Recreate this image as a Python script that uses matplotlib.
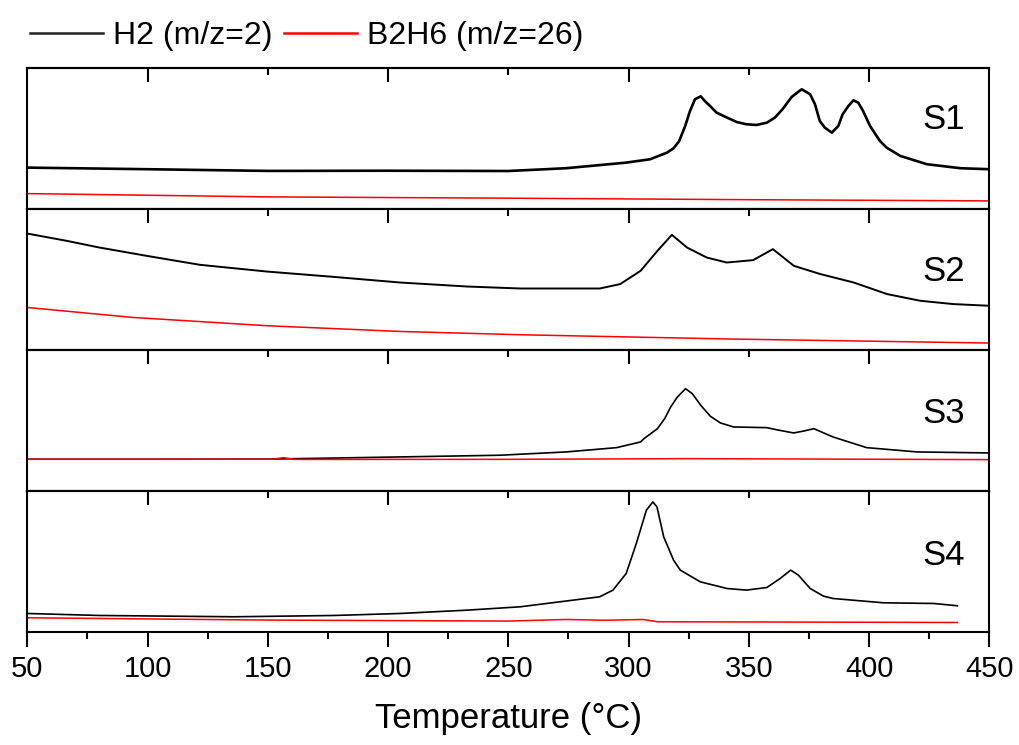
import numpy as np
import matplotlib
matplotlib.use('Agg')
import matplotlib.pyplot as plt
from matplotlib.lines import Line2D

plt.rcParams['font.family'] = ['Liberation Sans', 'DejaVu Sans']

# 各面板曲线（温度 °C, 强度 a.u.）
s1_h2_t = [50, 100, 150, 200, 250, 274, 299, 309, 316, 318.7, 321, 323.5, 325.5, 327.6, 330, 331.8, 334,
           336.6, 341, 344.9, 349, 353.2, 357.5, 360.8, 364, 367.8, 371, 372, 375.5, 377.5, 379.5, 381.6,
           384.5, 387.2, 389, 391.4, 393.5, 395.5, 397.5, 400.4, 404.5, 407.3, 413, 424, 438, 450]
s1_h2 = [41.6, 40, 38.3, 38.5, 38.2, 41, 46.6, 50, 56.6, 61, 68, 83, 98, 110, 113, 108, 103,
         96.6, 91.6, 87.3, 85, 84.3, 86.6, 91.6, 100, 112.3, 118.3, 120, 115, 105, 88.3, 81.6,
         76.6, 83.3, 95, 103.3, 109, 106.6, 98.3, 83.3, 68.3, 61.6, 53.3, 45, 41, 40]
s1_b2h6_t = [50, 150, 250, 350, 450]
s1_b2h6 = [15.6, 12.3, 11, 9.5, 8.3]

s2_h2_t = [50, 66.4, 80, 99.6, 121.8, 149.5, 177, 205, 232.7, 255, 288, 296.5, 305, 312, 318,
           324.3, 332.5, 340.8, 351.8, 360, 368.7, 379.8, 393.6, 407.5, 421.3, 435, 450]
s2_h2 = [116.6, 109.3, 102.6, 94.3, 85.3, 78.6, 73.3, 67.6, 63.6, 61.6, 61.6, 66, 79.3, 99.3, 115.3,
         102.6, 92.6, 87.6, 90, 101, 84.3, 76, 67.6, 56, 49.3, 46, 44.3]
s2_b2h6_t = [50, 94, 150, 205, 255, 343, 450]
s2_b2h6 = [42.6, 32.6, 24.3, 18.6, 15.3, 11, 7]

s3_h2_t = [50, 100, 150, 205, 246.5, 274, 295, 305, 306.4, 312, 315, 317.5, 320.3, 323.7, 326.5,
           330, 334, 338.2, 343.7, 357.5, 362, 368.6, 373, 377, 385, 399, 420, 450]
s3_h2 = [31.7, 31.7, 31.8, 34, 35.7, 39, 43.3, 49, 52.3, 62.3, 72.3, 84, 94, 102.3, 97.3,
         85.7, 74.7, 68, 64, 63.3, 61, 58, 60, 62.3, 54, 43.3, 39, 38]
s3_b2h6_t = [50, 152, 156.5, 161, 250, 325, 450]
s3_b2h6 = [31.7, 31.7, 33.3, 31.5, 31.6, 32.3, 31.3]

s4_h2_t = [50, 80, 136, 177.6, 205, 232.7, 255, 288, 293.5, 299, 303.2, 307.4, 310.1, 311.8,
           314.6, 318.7, 321.5, 329.8, 340.9, 349, 357.5, 363, 367.4, 370.6, 375.5, 381, 385,
           406, 427, 436.7]
s4_h2 = [18.3, 16.3, 15, 16.3, 18.3, 21.6, 25, 35, 41.7, 58.3, 88.3, 121.7, 130, 125,
         95, 71.7, 61.7, 50, 43.3, 41.7, 44.3, 53.3, 61.7, 56.7, 43.3, 35.7, 33.3,
         29, 28.3, 26]
s4_b2h6_t = [50, 150, 250, 274, 290, 306, 312, 350, 436.7]
s4_b2h6 = [14, 11.7, 10.7, 12.3, 11.5, 12.3, 10, 9.8, 9.3]

panels = [
    ('S1', s1_h2_t, s1_h2, s1_b2h6_t, s1_b2h6, 0.64, 1.9),
    ('S2', s2_h2_t, s2_h2, s2_b2h6_t, s2_b2h6, 0.56, 1.4),
    ('S3', s3_h2_t, s3_h2, s3_b2h6_t, s3_b2h6, 0.55, 1.2),
    ('S4', s4_h2_t, s4_h2, s4_b2h6_t, s4_b2h6, 0.54, 1.2),
]

fig, axes = plt.subplots(4, 1, figsize=(10.19, 7.45), dpi=100, sharex=True)
fig.subplots_adjust(left=0.0268, right=0.9709, top=0.9083, bottom=0.152, hspace=0)

for i, (name, tx, h2, tr, b2h6, ly, lw) in enumerate(panels):
    ax = axes[i]
    ax.plot(tx, h2, color='black', lw=lw)
    ax.plot(tr, b2h6, color='red', lw=1.1)
    ax.set_xlim(50, 450)
    ax.set_ylim(0, 141)
    ax.set_yticks([])
    for sp in ax.spines.values():
        sp.set_linewidth(1.5)
    ax.text(0.975, ly, name, transform=ax.transAxes, ha='right', va='center', fontsize=25)
    # 顶部向内刻度
    sec = ax.secondary_xaxis('top')
    sec.set_xticks([100, 200, 300, 400])
    sec.set_xticks([150, 250, 350], minor=True)
    sec.tick_params(which='major', direction='in', length=10, width=1.5, labeltop=False)
    sec.tick_params(which='minor', direction='in', length=5, width=1.5)
    sec.spines['top'].set_linewidth(1.5)
    if i < 3:
        ax.tick_params(axis='x', which='both', bottom=False, labelbottom=False)

ax = axes[-1]
ax.set_xticks(np.arange(50, 451, 50))
ax.set_xticks(np.arange(75, 450, 50), minor=True)
ax.tick_params(axis='x', which='major', direction='out', length=10.5, width=1.5, labelsize=21, pad=6)
ax.tick_params(axis='x', which='minor', direction='out', length=5, width=1.5)
ax.set_xlabel('Temperature (°C)', fontsize=25, labelpad=14)

handles = [Line2D([], [], color='#222222', lw=1.8), Line2D([], [], color='red', lw=1.8)]
fig.legend(handles, ['H2 (m/z=2)', 'B2H6 (m/z=26)'], loc='upper left', bbox_to_anchor=(0.0294, 0.972),
           ncol=2, frameon=False, fontsize=23, handlelength=2.3, handletextpad=0.3, columnspacing=0.35,
           borderpad=0, borderaxespad=0)

fig.savefig('out.png', dpi=100)
